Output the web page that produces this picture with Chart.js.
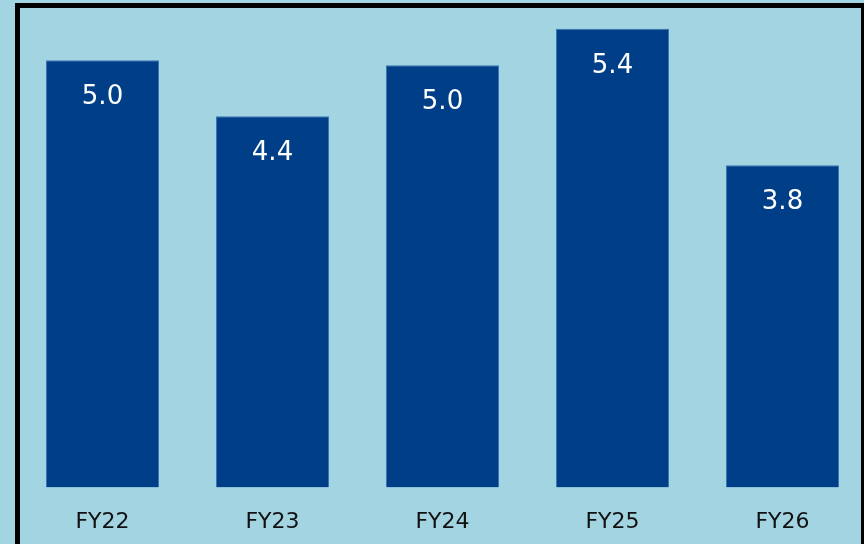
<!DOCTYPE html>
<html>
<head>
<meta charset="utf-8">
<script src="https://cdn.jsdelivr.net/npm/chart.js@4"></script>
<style>
  html, body { margin: 0; padding: 0; background: #a2d4e2; overflow: hidden; }
  #wrap { position: absolute; left: 0; top: 0; width: 870px; height: 565px; }
</style>
</head>
<body>
<div id="wrap"><canvas id="fyChart"></canvas></div>
<script>
// data
const categories = ['FY22', 'FY23', 'FY24', 'FY25', 'FY26'];
const values = [5.04, 4.38, 4.98, 5.41, 3.80];
const yMax = 5.75;

// value labels inside the top of each bar
const valueLabels = {
    id: 'valueLabels',
    afterDatasetsDraw(chart) {
        const ctx = chart.ctx;
        const meta = chart.getDatasetMeta(0);
        ctx.save();
        ctx.fillStyle = '#ffffff';
        ctx.font = '26px "DejaVu Sans", sans-serif';
        ctx.textAlign = 'center';
        ctx.textBaseline = 'middle';
        meta.data.forEach((bar, i) => {
            ctx.fillText(values[i].toFixed(1), bar.x, bar.y + 37);
        });
        ctx.restore();
    }
};

// black frame around the panel
const frame = {
    id: 'frame',
    afterDraw(chart) {
        const ctx = chart.ctx;
        ctx.save();
        ctx.strokeStyle = '#000000';
        ctx.lineWidth = 5;
        ctx.strokeRect(17.5, 5.5, 846, 600);
        ctx.restore();
    }
};

new Chart(document.getElementById('fyChart'), {
    type: 'bar',
    data: {
        labels: categories,
        datasets: [{
            data: values,
            backgroundColor: '#003e87',
            borderColor: '#3d76b4',
            borderWidth: 1,
            categoryPercentage: 1,
            barPercentage: 0.665
        }]
    },
    options: {
        responsive: true,
        maintainAspectRatio: false,
        animation: false,
        layout: { padding: { left: 17.5, right: 2.5, top: 0, bottom: 9 } },
        plugins: { legend: { display: false }, tooltip: { enabled: false } },
        scales: {
            x: {
                grid: { display: false, drawTicks: false },
                border: { display: false },
                ticks: {
                    color: '#111111',
                    padding: 21,
                    font: { family: '"DejaVu Sans", sans-serif', size: 22 }
                }
            },
            y: {
                display: false,
                min: 0,
                max: yMax
            }
        }
    },
    plugins: [valueLabels, frame]
});
</script>
</body>
</html>
